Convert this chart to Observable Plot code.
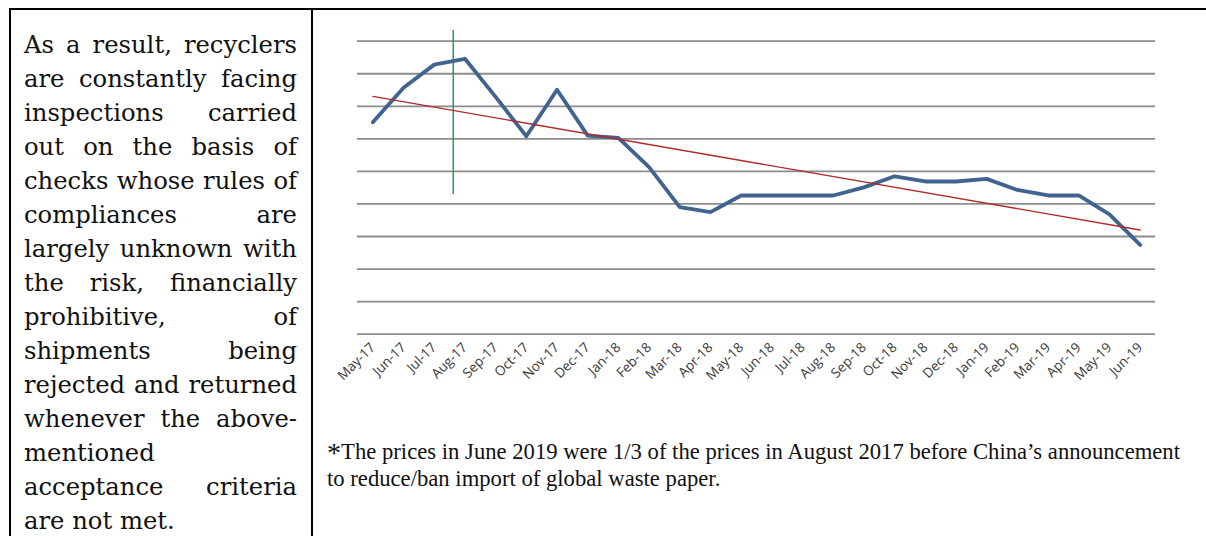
<!DOCTYPE html>
<html>
<head>
<meta charset="utf-8">
<script src="https://cdn.jsdelivr.net/npm/d3@7"></script>
<script src="https://cdn.jsdelivr.net/npm/@observablehq/plot@0.6"></script>
<style>
  html, body { margin: 0; padding: 0; background: #fff; }
  #page { position: relative; width: 1206px; height: 536px; overflow: hidden; background: #fff; }
  .bar { position: absolute; background: #000; }
  #bodytext { position: absolute; left: 24px; top: 28px; width: 273px; font-family: "DejaVu Serif", serif; font-size: 23px; color: #111; }
  #bodytext div { height: 34px; line-height: 34px; white-space: nowrap; text-align: justify; text-align-last: justify; }
  #bodytext div.left { text-align-last: left; }
  #chart { position: absolute; left: 312px; top: 0; }
  #note { position: absolute; left: 327px; top: 439px; font-family: "Liberation Serif", serif; font-size: 22.5px; line-height: 26px; color: #111; white-space: nowrap; transform-origin: 0 0; }
  #note .star { font-size: 28px; vertical-align: -3px; }
</style>
</head>
<body>
<div id="page">
  <div class="bar" style="left:9px;top:8px;width:1197px;height:1.6px"></div>
  <div class="bar" style="left:9px;top:8px;width:1.6px;height:528px"></div>
  <div class="bar" style="left:311px;top:8px;width:1.6px;height:528px"></div>
  <div id="bodytext"></div>
  <div id="chart"></div>
  <div id="note"></div>
</div>
<script>
// ---- data ----
const months = ["May-17","Jun-17","Jul-17","Aug-17","Sep-17","Oct-17","Nov-17","Dec-17",
  "Jan-18","Feb-18","Mar-18","Apr-18","May-18","Jun-18","Jul-18","Aug-18","Sep-18","Oct-18",
  "Nov-18","Dec-18","Jan-19","Feb-19","Mar-19","Apr-19","May-19","Jun-19"];
const prices = [6.51,7.57,8.28,8.46,7.29,6.08,7.51,6.10,6.03,5.13,3.90,3.75,4.26,4.26,4.26,4.26,
  4.51,4.85,4.69,4.69,4.77,4.43,4.26,4.26,3.68,2.74];
const gridValues = [0,1,2,3,4,5,6,7,8,9];
const markerIndex = [2.62];          // green marker between Jul-17 and Aug-17
const markerRange = [4.29, 9.33];    // vertical extent of the marker (value units)
const bodyLines = ["As a result, recyclers","are constantly facing","inspections carried",
  "out on the basis of","checks whose rules of","compliances are","largely unknown with",
  "the risk, financially","prohibitive, of","shipments being","rejected and returned",
  "whenever the above-","mentioned","acceptance criteria","are not met."];
const leftLines = ["mentioned","are not met."];
const noteLines = ["The prices in June 2019 were 1/3 of the prices in August 2017 before China\u2019s announcement",
  "to reduce/ban import of global waste paper."];

// ---- text ----
const bt = document.getElementById("bodytext");
// fit body font so the widest line just fills the column
const cv = document.createElement("canvas").getContext("2d");
cv.font = '100px "DejaVu Serif"';
const maxW = d3.max(bodyLines, l => cv.measureText(l).width) / 100;
bt.style.fontSize = Math.min(26, 271 / maxW) + "px";
for (const l of bodyLines) {
  const d = document.createElement("div");
  d.textContent = l;
  if (leftLines.includes(l)) d.className = "left";
  bt.appendChild(d);
}
const note = document.getElementById("note");
note.innerHTML = '<span class="star">*</span>' + noteLines[0] + "<br>" + noteLines[1];
const nw = note.getBoundingClientRect().width;
note.style.transform = `scaleX(${853 / nw})`;

// ---- chart ----
const data = prices.map((v, i) => ({i, v, m: months[i]}));
const chart = Plot.plot({
  width: 894,
  height: 400,
  marginLeft: 45,
  marginRight: 51,
  marginTop: 40.7,
  marginBottom: 66.35,
  style: {background: "transparent", fontFamily: "'Open Sans', sans-serif"},
  x: {domain: [-0.5, 25.5]},
  y: {domain: [0, 9], axis: null},
  marks: [
    Plot.ruleY(gridValues, {stroke: "#8c8c8c", strokeWidth: 1.8}),
    Plot.axisX(months.map((_, i) => i), {
      tickFormat: i => months[i], tickRotate: -45, tickSize: 0, tickPadding: 11,
      fontSize: 13.5, fill: "#3a3a3a", label: null
    }),
    Plot.ruleX(markerIndex, {x: d => d, y1: markerRange[0], y2: markerRange[1], stroke: "#2e9a52", strokeWidth: 1.5}),
    Plot.line(data, {x: "i", y: "v", stroke: "#40638f", strokeWidth: 3.8, strokeLinejoin: "round", strokeLinecap: "round"}),
    Plot.linearRegressionY(data, {x: "i", y: "v", ci: 0, stroke: "#b02a2a", strokeWidth: 1.3})
  ]
});
document.getElementById("chart").appendChild(chart);
</script>
</body>
</html>
